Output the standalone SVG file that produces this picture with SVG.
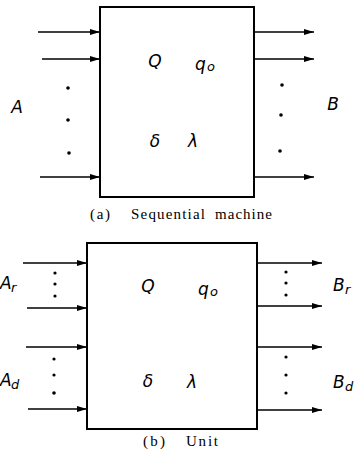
<svg xmlns="http://www.w3.org/2000/svg" width="355" height="449" viewBox="0 0 355 449">
<defs>
<marker id="ah" viewBox="0 0 10 6" refX="10" refY="3" markerWidth="10" markerHeight="6" markerUnits="userSpaceOnUse" orient="auto">
<path d="M0,0 L10,3 L0,6 Z" fill="#000"/>
</marker>
<style>
.box{fill:#fff;stroke:#000;stroke-width:2}
.ar{stroke:#000;stroke-width:1.5;fill:none;marker-end:url(#ah)}
.dot{fill:#000}
.sym{font-family:"DejaVu Sans","Liberation Sans",sans-serif;font-style:italic;font-size:17px;fill:#000}
.sub{font-family:"DejaVu Sans","Liberation Sans",sans-serif;font-style:italic;font-size:13px;fill:#000}
.cap{font-family:"Liberation Serif",serif;font-size:15px;fill:#000}
</style>
</defs>
<g id="machine-a">
<rect class="box" x="100" y="7" width="154" height="190"/>
<text class="sym" x="155" y="67" text-anchor="middle">Q</text>
<text class="sym" x="195" y="70">q</text><text class="sub" x="207" y="71">o</text>
<text class="sym" x="155" y="147" text-anchor="middle">δ</text>
<text class="sym" x="193" y="147" text-anchor="middle">λ</text>
</g>
<g id="label-A"><text class="sym" x="17" y="113" text-anchor="middle">A</text></g>
<g id="label-B"><text class="sym" x="333" y="110" text-anchor="middle">B</text></g>
<g id="caption-a"><text class="cap" x="90" y="219" textLength="20" lengthAdjust="spacing">( a )</text><text class="cap" x="131" y="219" textLength="74" lengthAdjust="spacing">Sequential</text><text class="cap" x="215" y="219" textLength="57" lengthAdjust="spacing">machine</text></g>
<g id="unit-b">
<rect class="box" x="87" y="243" width="170" height="186"/>
<text class="sym" x="148" y="292" text-anchor="middle">Q</text>
<text class="sym" x="198" y="295">q</text><text class="sub" x="210" y="296">o</text>
<text class="sym" x="148" y="387" text-anchor="middle">δ</text>
<text class="sym" x="192" y="388" text-anchor="middle">λ</text>
</g>
<g id="label-Ar"><text class="sym" x="0" y="289">A</text><text class="sub" x="11" y="292">r</text></g>
<g id="label-Ad"><text class="sym" x="0" y="386">A</text><text class="sub" x="11" y="389">d</text></g>
<g id="label-Br"><text class="sym" x="333" y="291">B</text><text class="sub" x="345" y="294">r</text></g>
<g id="label-Bd"><text class="sym" x="333" y="388">B</text><text class="sub" x="345" y="391">d</text></g>
<g id="caption-b"><text class="cap" x="143" y="446" textLength="22" lengthAdjust="spacing">( b )</text><text class="cap" x="186" y="446" textLength="32" lengthAdjust="spacing">Unit</text></g>
<g id="connectors">
<line class="ar" x1="38" y1="32" x2="100" y2="32"/>
<line class="ar" x1="42" y1="59" x2="100" y2="59"/>
<line class="ar" x1="40" y1="177" x2="100" y2="177"/>
<line class="ar" x1="254" y1="32" x2="314" y2="32"/>
<line class="ar" x1="254" y1="59" x2="314" y2="59"/>
<line class="ar" x1="254" y1="177" x2="314" y2="177"/>
<line class="ar" x1="23" y1="263" x2="87" y2="263"/>
<line class="ar" x1="27" y1="308" x2="87" y2="308"/>
<line class="ar" x1="26" y1="347" x2="87" y2="347"/>
<line class="ar" x1="28" y1="409" x2="87" y2="409"/>
<line class="ar" x1="257" y1="263" x2="322" y2="263"/>
<line class="ar" x1="257" y1="306" x2="322" y2="306"/>
<line class="ar" x1="257" y1="347" x2="322" y2="347"/>
<line class="ar" x1="257" y1="410" x2="322" y2="410"/>
</g>
<g id="dots">
<circle class="dot" cx="68" cy="88" r="1.8"/>
<circle class="dot" cx="68" cy="120" r="1.8"/>
<circle class="dot" cx="69" cy="153" r="1.8"/>
<circle class="dot" cx="282" cy="85" r="1.8"/>
<circle class="dot" cx="281" cy="115" r="1.8"/>
<circle class="dot" cx="280" cy="151" r="1.8"/>
<circle class="dot" cx="55" cy="273" r="1.6"/>
<circle class="dot" cx="55" cy="284" r="1.6"/>
<circle class="dot" cx="55" cy="296" r="1.6"/>
<circle class="dot" cx="54" cy="359" r="1.6"/>
<circle class="dot" cx="54" cy="375" r="1.6"/>
<circle class="dot" cx="54" cy="393" r="1.8"/>
<circle class="dot" cx="286" cy="272" r="1.6"/>
<circle class="dot" cx="286" cy="283" r="1.6"/>
<circle class="dot" cx="286" cy="295" r="1.6"/>
<circle class="dot" cx="286" cy="357" r="1.6"/>
<circle class="dot" cx="286" cy="375" r="1.6"/>
<circle class="dot" cx="286" cy="393" r="1.6"/>
</g>
</svg>
